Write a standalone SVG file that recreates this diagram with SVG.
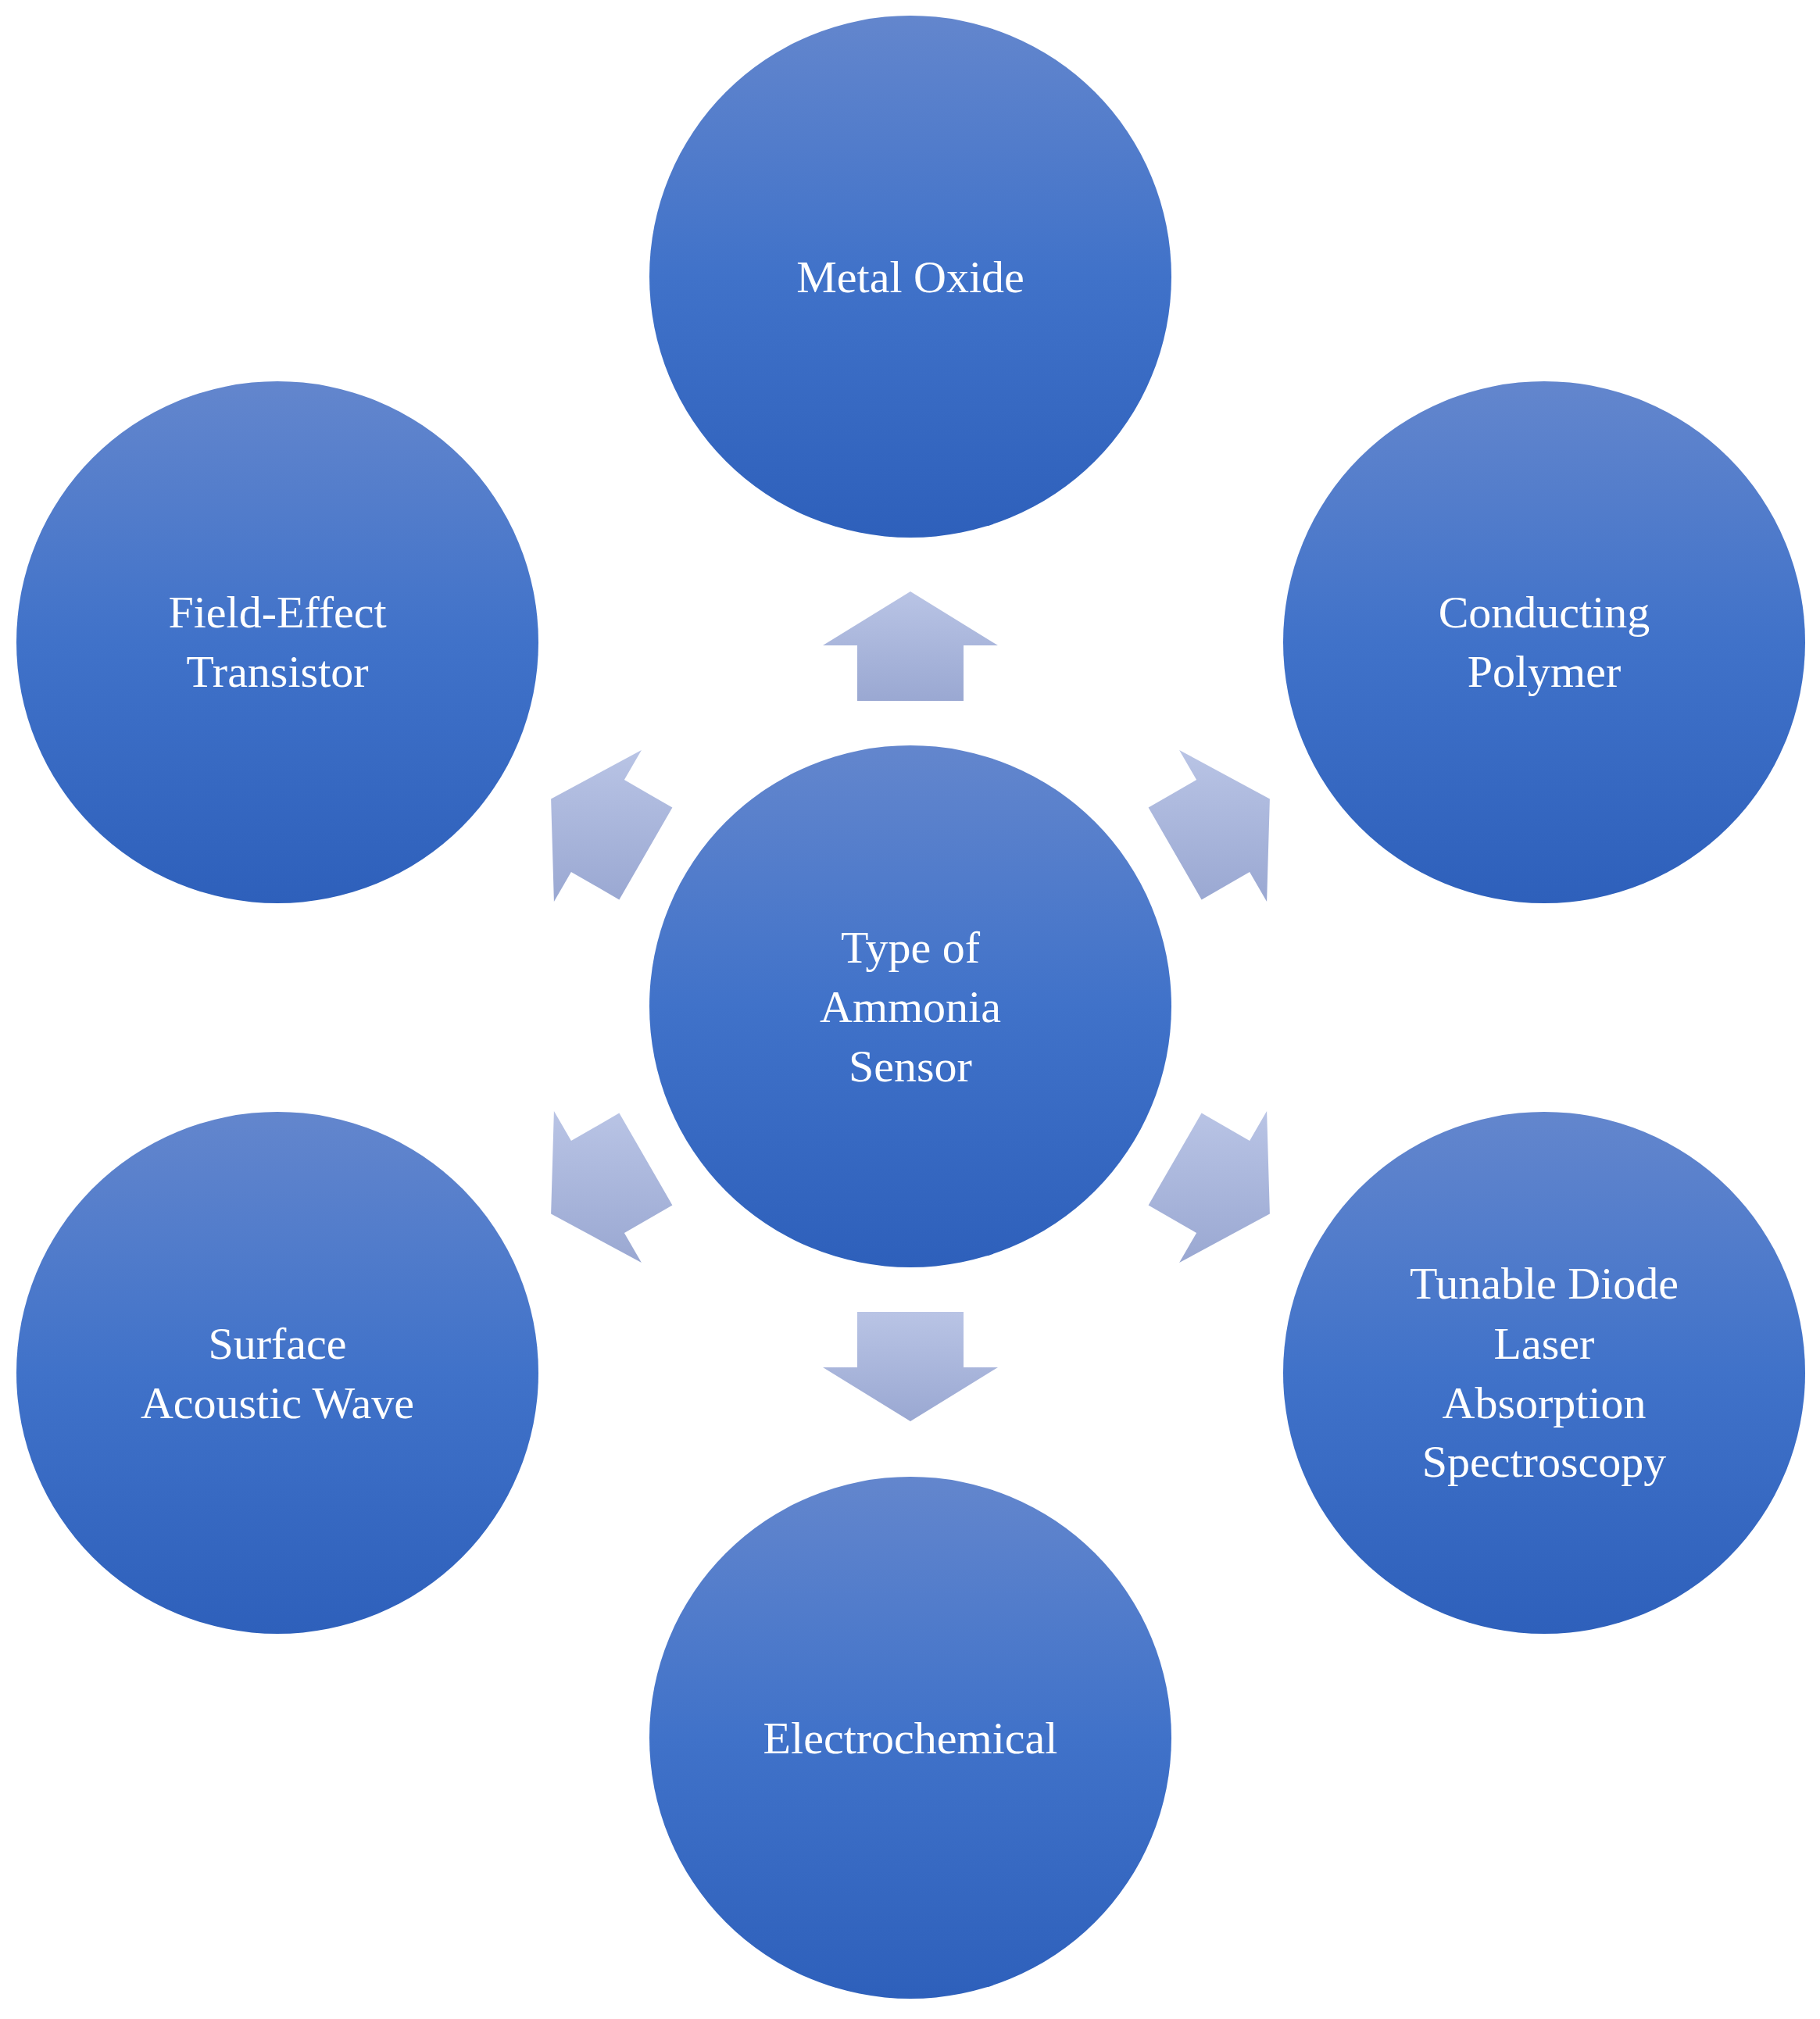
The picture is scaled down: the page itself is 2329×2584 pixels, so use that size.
<svg xmlns="http://www.w3.org/2000/svg" width="2329" height="2584" viewBox="0 0 2329 2584">
<defs>
<linearGradient id="cg" x1="0" y1="0" x2="0" y2="1">
<stop offset="0" stop-color="#6386cd"/><stop offset="0.5" stop-color="#4072c9"/><stop offset="1" stop-color="#2e60bb"/>
</linearGradient>
<linearGradient id="ag" x1="0" y1="0" x2="0" y2="1">
<stop offset="0" stop-color="#b9c4e5"/><stop offset="1" stop-color="#9aa8d2"/>
</linearGradient>
<style>
circle{fill:url(#cg)}
.a{fill:url(#ag)}
text{font-family:"Liberation Serif","DejaVu Serif",serif;font-size:58px;fill:#fff;text-anchor:middle;dominant-baseline:central}
</style>
</defs>
<g id="connectors">
<polygon class="a" points="1165,757 1277,826 1233,826 1233,897 1097,897 1097,826 1053,826"/>
<polygon class="a" points="1624.9,1022.5 1621.1,1154 1599.1,1115.9 1537.6,1151.4 1469.6,1033.6 1531.1,998.1 1509.1,960"/>
<polygon class="a" points="1624.9,1553.5 1509.1,1616 1531.1,1577.9 1469.6,1542.4 1537.6,1424.6 1599.1,1460.1 1621.1,1422"/>
<polygon class="a" points="1165,1819 1277,1750 1233,1750 1233,1679 1097,1679 1097,1750 1053,1750"/>
<polygon class="a" points="705.1,1553.5 820.9,1616 798.9,1577.9 860.4,1542.4 792.4,1424.6 730.9,1460.1 708.9,1422"/>
<polygon class="a" points="705.1,1022.5 708.9,1154 730.9,1115.9 792.4,1151.4 860.4,1033.6 798.9,998.1 820.9,960"/>
</g>
<g id="center"><circle cx="1165" cy="1288" r="334"/><text x="1165" y="1212">Type of</text><text x="1165" y="1288">Ammonia</text><text x="1165" y="1364">Sensor</text></g>
<g id="metal-oxide"><circle cx="1165" cy="354" r="334"/><text x="1165" y="354">Metal Oxide</text></g>
<g id="conducting-polymer"><circle cx="1976" cy="822" r="334"/><text x="1976" y="783">Conducting</text><text x="1976" y="859">Polymer</text></g>
<g id="tdlas"><circle cx="1976" cy="1757" r="334"/><text x="1976" y="1642">Tunable Diode</text><text x="1976" y="1719">Laser</text><text x="1976" y="1795">Absorption</text><text x="1976" y="1870">Spectroscopy</text></g>
<g id="electrochemical"><circle cx="1165" cy="2224" r="334"/><text x="1165" y="2224">Electrochemical</text></g>
<g id="saw"><circle cx="355" cy="1757" r="334"/><text x="355" y="1719">Surface</text><text x="355" y="1795">Acoustic Wave</text></g>
<g id="fet"><circle cx="355" cy="822" r="334"/><text x="355" y="783">Field-Effect</text><text x="355" y="859">Transistor</text></g>
</svg>
